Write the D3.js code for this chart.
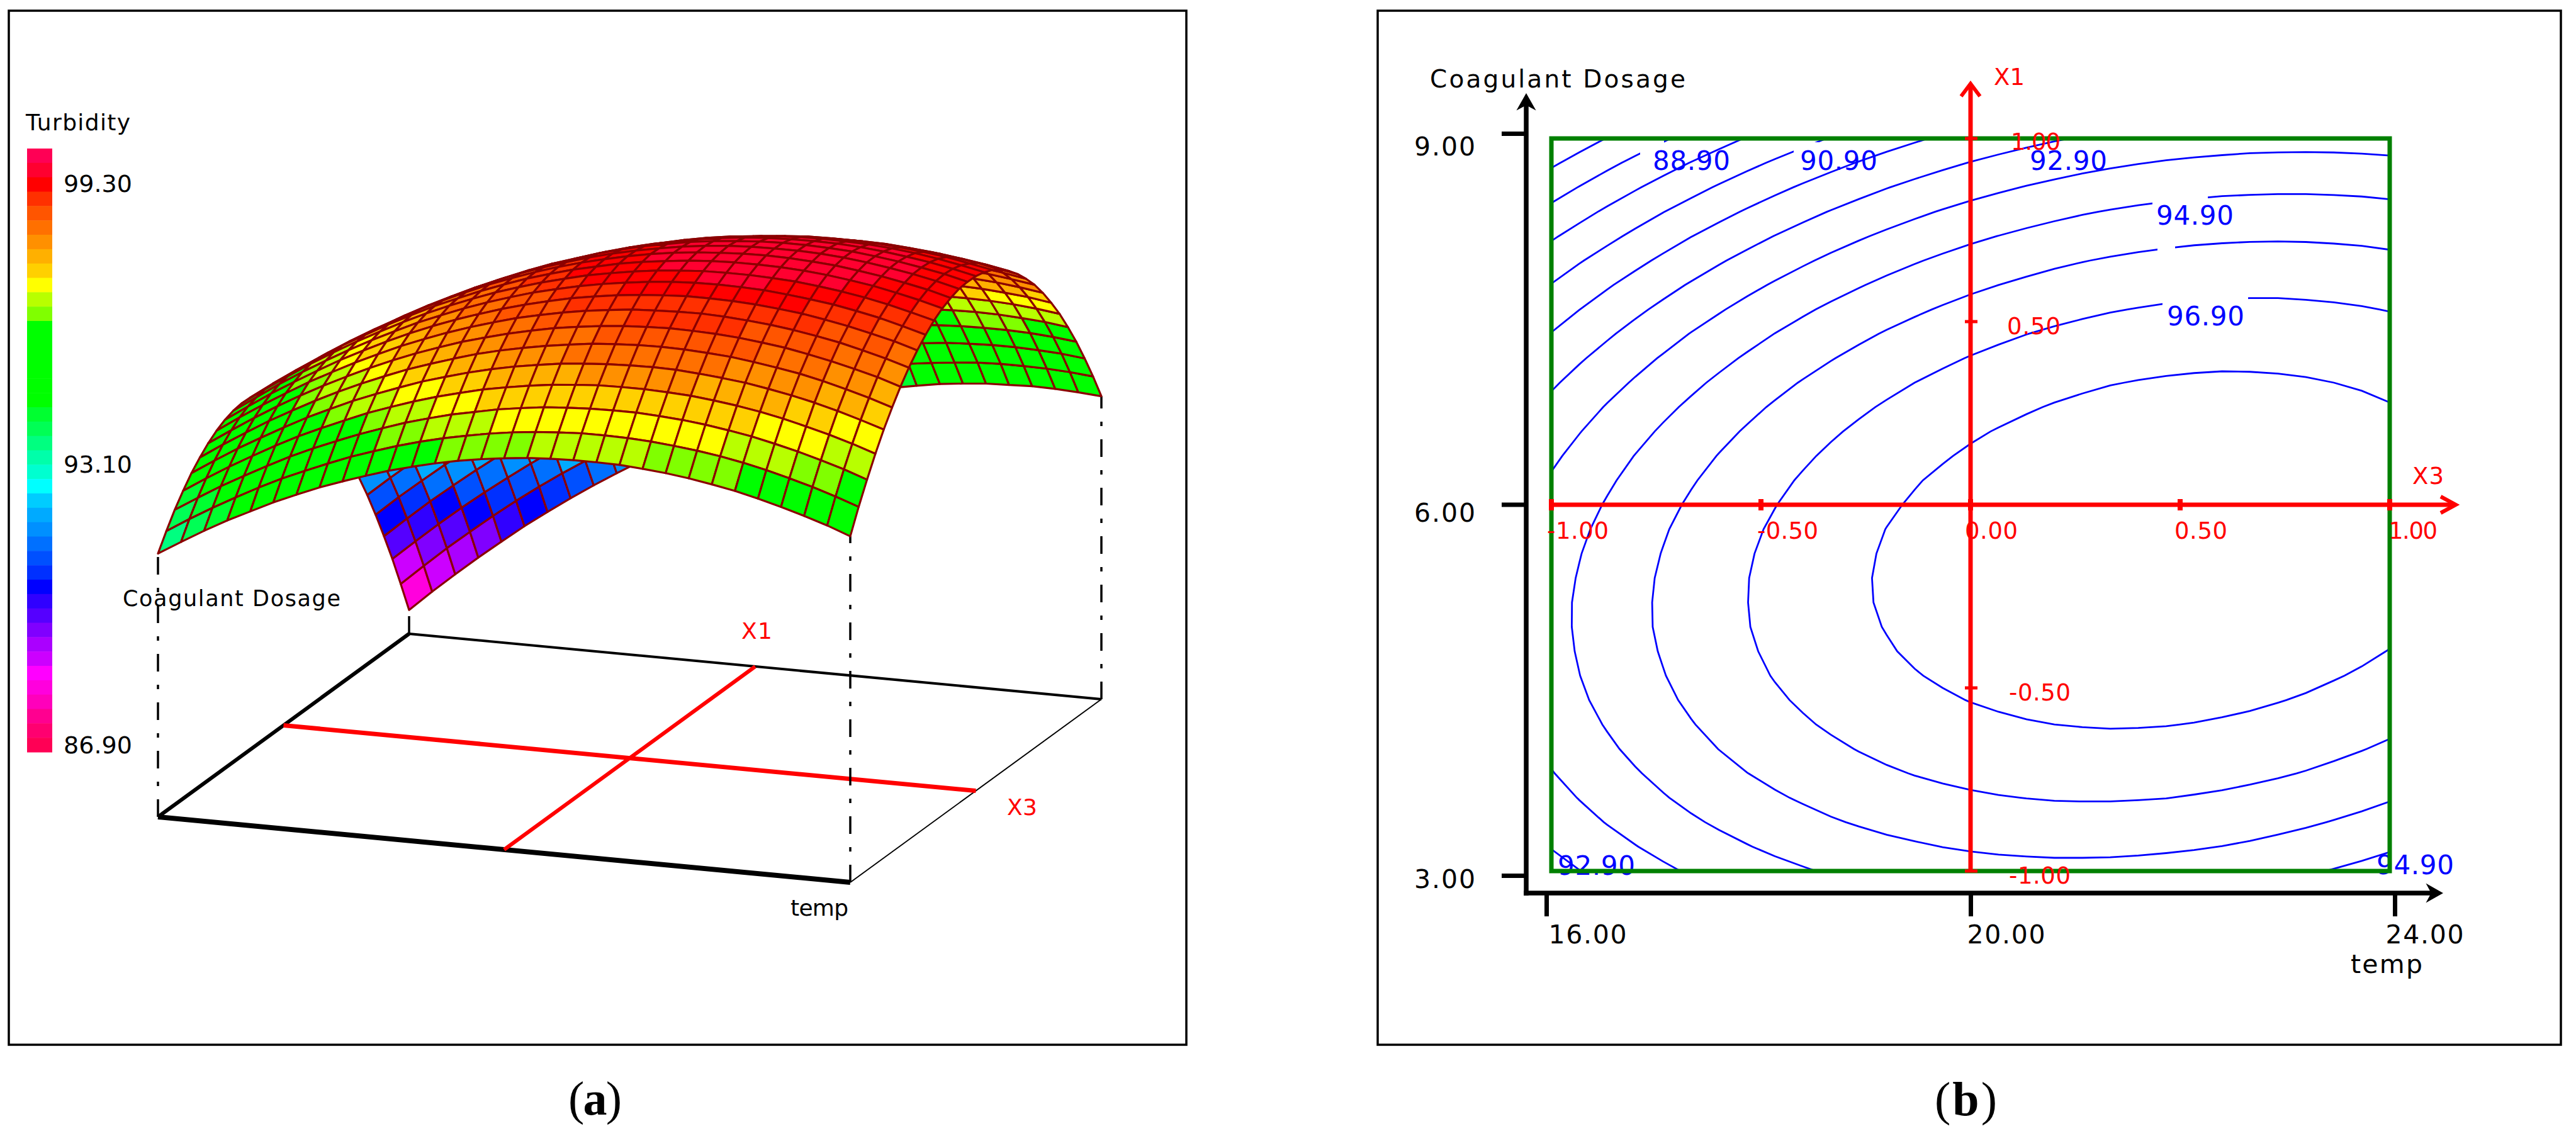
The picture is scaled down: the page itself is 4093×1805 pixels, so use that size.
<!DOCTYPE html>
<html>
<head>
<meta charset="utf-8">
<script src="https://cdnjs.cloudflare.com/ajax/libs/d3/7.8.5/d3.min.js"></script>
<style>
  html, body { margin: 0; padding: 0; background: #fff; }
  svg { display: block; }
  text { font-family: "DejaVu Sans", sans-serif; }
  .caption { font-family: "Liberation Serif", serif; font-size: 76px; }
</style>
</head>
<body>
<svg id="vis" width="4093" height="1805"></svg>
<script>
// legend bands, top to bottom
const legendColors = [
  '#ff0055', '#ff0030', '#ff0000', '#ff3000', '#ff5500', '#ff7000', '#ff9000',
  '#ffb000', '#ffd000', '#ffff00', '#b8ff00', '#80ff00', '#00ff00', '#00ff00',
  '#00ff00', '#00ff00', '#00ff00', '#00ff00', '#00ff30', '#00ff55', '#00ff80',
  '#00ffaa', '#00ffd0', '#00ffff', '#00ccff', '#00aaff', '#0090ff', '#0070ff',
  '#0050ff', '#0030ff', '#0000ff', '#3000ff', '#5500ff', '#8000ff', '#aa00ff',
  '#cc00ff', '#ff00ff', '#ff00dd', '#ff00bb', '#ff0090', '#ff0070', '#ff0055'
];
const legendTicks = [99.3, 93.1, 86.9];
const tempTicks = [16, 20, 24];
const doseTicks = [3, 6, 9];
const codedTicks = [-1, -0.5, 0, 0.5, 1];
const contourLevels = [87.9, 88.9, 89.9, 90.9, 91.9, 92.9, 93.9, 94.9, 95.9, 96.9, 97.9];

// turbidity: one row per dosage step (3 -> 9), one column per temp step (16 -> 24)
const turbidityGrid = [
  [92.56,92.88,93.19,93.48,93.74,94.00,94.23,94.45,94.64,94.82,94.99,95.13,95.26,95.37,95.46,95.53,95.59,95.62,95.64,95.64,95.63,95.59,95.54,95.47,95.38,95.28,95.15,95.01,94.85,94.68,94.48],
  [92.94,93.27,93.58,93.87,94.15,94.41,94.64,94.86,95.07,95.25,95.42,95.57,95.70,95.81,95.91,95.99,96.05,96.09,96.12,96.12,96.11,96.08,96.03,95.97,95.89,95.79,95.67,95.53,95.38,95.21,95.02],
  [93.29,93.62,93.94,94.23,94.51,94.78,95.02,95.24,95.45,95.64,95.82,95.97,96.11,96.22,96.33,96.41,96.48,96.52,96.55,96.56,96.56,96.53,96.49,96.43,96.35,96.26,96.14,96.01,95.86,95.70,95.51],
  [93.59,93.93,94.25,94.55,94.84,95.11,95.35,95.58,95.80,95.99,96.17,96.33,96.47,96.60,96.70,96.79,96.86,96.91,96.95,96.96,96.96,96.94,96.91,96.85,96.78,96.69,96.58,96.45,96.31,96.15,95.97],
  [93.86,94.20,94.53,94.83,95.12,95.40,95.65,95.89,96.10,96.30,96.49,96.65,96.80,96.93,97.04,97.13,97.21,97.26,97.30,97.32,97.33,97.32,97.28,97.23,97.17,97.08,96.98,96.86,96.72,96.56,96.39],
  [94.08,94.43,94.76,95.08,95.37,95.65,95.91,96.15,96.37,96.58,96.76,96.93,97.09,97.22,97.33,97.43,97.51,97.58,97.62,97.65,97.66,97.65,97.62,97.58,97.51,97.43,97.34,97.22,97.08,96.93,96.76],
  [94.27,94.62,94.96,95.28,95.58,95.86,96.12,96.37,96.60,96.81,97.00,97.18,97.33,97.47,97.59,97.70,97.78,97.85,97.90,97.93,97.95,97.94,97.92,97.88,97.82,97.75,97.65,97.54,97.41,97.27,97.10],
  [94.42,94.78,95.12,95.44,95.75,96.03,96.30,96.55,96.79,97.00,97.20,97.38,97.54,97.69,97.81,97.92,98.01,98.08,98.14,98.17,98.19,98.20,98.18,98.14,98.09,98.02,97.93,97.83,97.70,97.56,97.40],
  [94.53,94.89,95.24,95.56,95.87,96.17,96.44,96.70,96.94,97.16,97.36,97.54,97.71,97.86,97.99,98.11,98.20,98.28,98.34,98.38,98.41,98.41,98.40,98.37,98.32,98.26,98.17,98.07,97.95,97.82,97.66],
  [94.60,94.96,95.32,95.65,95.96,96.26,96.54,96.80,97.05,97.27,97.48,97.67,97.84,98.00,98.13,98.25,98.35,98.43,98.50,98.55,98.58,98.59,98.58,98.56,98.51,98.45,98.38,98.28,98.17,98.03,97.88],
  [94.63,95.00,95.36,95.70,96.02,96.32,96.60,96.87,97.12,97.35,97.56,97.76,97.93,98.09,98.23,98.36,98.46,98.55,98.62,98.67,98.71,98.72,98.72,98.70,98.67,98.61,98.54,98.45,98.34,98.21,98.07],
  [94.62,95.00,95.36,95.70,96.03,96.33,96.62,96.89,97.15,97.38,97.60,97.80,97.99,98.15,98.30,98.42,98.54,98.63,98.70,98.76,98.80,98.82,98.82,98.81,98.78,98.73,98.66,98.58,98.47,98.35,98.21],
  [94.57,94.95,95.32,95.67,96.00,96.31,96.60,96.88,97.14,97.38,97.61,97.81,98.00,98.17,98.32,98.45,98.57,98.67,98.75,98.81,98.85,98.88,98.89,98.88,98.85,98.81,98.74,98.66,98.56,98.45,98.31],
  [94.48,94.87,95.24,95.60,95.93,96.25,96.55,96.83,97.09,97.34,97.57,97.78,97.97,98.14,98.30,98.44,98.56,98.66,98.75,98.82,98.87,98.90,98.91,98.91,98.89,98.85,98.79,98.71,98.62,98.51,98.38],
  [94.36,94.75,95.13,95.49,95.83,96.15,96.45,96.74,97.01,97.26,97.49,97.71,97.91,98.08,98.25,98.39,98.52,98.62,98.72,98.79,98.84,98.88,98.90,98.90,98.88,98.85,98.79,98.72,98.63,98.53,98.40],
  [94.19,94.59,94.97,95.33,95.68,96.01,96.32,96.61,96.88,97.14,97.38,97.60,97.80,97.98,98.15,98.30,98.43,98.54,98.64,98.72,98.78,98.82,98.84,98.85,98.84,98.81,98.76,98.69,98.61,98.51,98.39],
  [93.99,94.39,94.78,95.14,95.49,95.83,96.14,96.44,96.72,96.98,97.22,97.45,97.66,97.85,98.02,98.17,98.31,98.43,98.53,98.61,98.67,98.72,98.75,98.76,98.75,98.73,98.69,98.63,98.55,98.45,98.34],
  [93.74,94.15,94.54,94.92,95.27,95.61,95.93,96.23,96.51,96.78,97.03,97.26,97.47,97.67,97.84,98.00,98.14,98.27,98.37,98.46,98.53,98.58,98.62,98.63,98.63,98.61,98.57,98.52,98.45,98.35,98.25],
  [93.46,93.87,94.27,94.65,95.01,95.35,95.68,95.98,96.27,96.54,96.80,97.03,97.25,97.45,97.63,97.80,97.94,98.07,98.18,98.27,98.35,98.41,98.44,98.47,98.47,98.46,98.42,98.37,98.30,98.22,98.11],
  [93.14,93.55,93.96,94.34,94.71,95.05,95.38,95.70,95.99,96.27,96.53,96.77,96.99,97.19,97.38,97.55,97.70,97.83,97.95,98.05,98.13,98.19,98.23,98.26,98.27,98.26,98.23,98.19,98.12,98.04,97.94],
  [92.77,93.20,93.60,93.99,94.36,94.72,95.05,95.37,95.67,95.95,96.21,96.46,96.69,96.90,97.09,97.26,97.42,97.56,97.68,97.78,97.87,97.93,97.98,98.01,98.03,98.02,98.00,97.96,97.90,97.83,97.73],
  [92.37,92.80,93.21,93.61,93.98,94.34,94.68,95.00,95.31,95.59,95.86,96.11,96.35,96.56,96.76,96.94,97.10,97.24,97.37,97.48,97.57,97.64,97.69,97.73,97.75,97.75,97.73,97.70,97.64,97.57,97.48],
  [91.93,92.37,92.78,93.18,93.56,93.93,94.27,94.60,94.91,95.20,95.47,95.73,95.97,96.19,96.39,96.57,96.74,96.89,97.02,97.13,97.23,97.31,97.36,97.41,97.43,97.44,97.42,97.39,97.35,97.28,97.20],
  [91.45,91.89,92.31,92.72,93.10,93.47,93.82,94.16,94.47,94.77,95.05,95.31,95.55,95.77,95.98,96.17,96.34,96.50,96.63,96.75,96.85,96.93,97.00,97.04,97.07,97.08,97.08,97.05,97.01,96.95,96.87],
  [90.93,91.38,91.81,92.22,92.61,92.98,93.33,93.67,93.99,94.29,94.58,94.84,95.09,95.32,95.53,95.73,95.90,96.06,96.21,96.33,96.43,96.52,96.59,96.64,96.67,96.69,96.69,96.67,96.63,96.58,96.50],
  [90.38,90.83,91.26,91.67,92.07,92.45,92.81,93.15,93.47,93.78,94.07,94.34,94.60,94.83,95.05,95.25,95.43,95.59,95.74,95.87,95.98,96.07,96.14,96.20,96.24,96.26,96.26,96.25,96.22,96.17,96.10],
  [89.78,90.24,90.67,91.09,91.49,91.88,92.24,92.59,92.92,93.23,93.53,93.80,94.06,94.30,94.52,94.73,94.91,95.08,95.23,95.37,95.48,95.58,95.66,95.72,95.76,95.79,95.80,95.79,95.76,95.72,95.65],
  [89.14,89.60,90.05,90.47,90.88,91.27,91.64,91.99,92.32,92.64,92.94,93.22,93.48,93.73,93.96,94.17,94.36,94.53,94.69,94.83,94.95,95.05,95.13,95.20,95.25,95.28,95.29,95.29,95.27,95.23,95.17],
  [88.47,88.93,89.38,89.81,90.22,90.61,90.99,91.35,91.69,92.01,92.31,92.60,92.87,93.12,93.35,93.57,93.76,93.94,94.10,94.25,94.37,94.48,94.57,94.64,94.70,94.73,94.75,94.75,94.73,94.70,94.64],
  [87.75,88.22,88.68,89.11,89.53,89.93,90.31,90.67,91.01,91.34,91.65,91.94,92.22,92.47,92.71,92.93,93.13,93.31,93.48,93.63,93.76,93.87,93.97,94.04,94.10,94.15,94.17,94.17,94.16,94.13,94.08],
  [87.00,87.48,87.93,88.37,88.79,89.20,89.58,89.95,90.30,90.63,90.95,91.24,91.52,91.78,92.03,92.25,92.46,92.65,92.82,92.97,93.11,93.22,93.32,93.41,93.47,93.52,93.54,93.56,93.55,93.52,93.48]
];

const svg = d3.select('#vis');
const nCols = turbidityGrid[0].length;
const nRows = turbidityGrid.length;

// coded units of the grid: both axes run -1 to 1
let colCoded = d3.scaleLinear().domain([0, nCols - 1]).range([-1, 1]);
let rowCoded = d3.scaleLinear().domain([0, nRows - 1]).range([-1, 1]);

// small helper for plain text labels, len squeezes to the measured width
function label(g, str, x, y, size, fill, len) {
  let t = g.append('text')
    .attr('x', x).attr('y', y)
    .attr('font-size', size)
    .attr('fill', fill)
    .text(str);
  if (len) t.attr('textLength', len).attr('lengthAdjust', 'spacing');
  return t;
}

function panelFrame(x0, y0, x1, y1) {
  svg.append('rect')
    .attr('x', x0).attr('y', y0)
    .attr('width', x1 - x0).attr('height', y1 - y0)
    .attr('fill', 'none')
    .attr('stroke', '#000')
    .attr('stroke-width', 3.5);
}

/* ---------- panel (a): response surface ---------- */
panelFrame(14, 17, 1885, 1660);
let a = svg.append('g');

// legend
let legendBand = d3.scaleBand().domain(d3.range(legendColors.length)).range([236, 1195]);
a.selectAll('.band').data(legendColors).join('rect')
  .attr('class', 'band')
  .attr('x', 43).attr('width', 40)
  .attr('y', (d, i) => legendBand(i))
  .attr('height', legendBand.bandwidth() + 0.5)
  .attr('fill', d => d);
let legendY = d3.scaleLinear().domain([86.9, 99.3]).range([1197, 305]);
legendTicks.forEach(d => label(a, d.toFixed(2), 101, legendY(d), 38, '#000', 109));
label(a, 'Turbidity', 41, 207, 36, '#000', 166);

// oblique projection of the base plane
let originX = d3.scaleLinear().domain([-1, 1]).range([251, 1351]);
let originY = d3.scaleLinear().domain([-1, 1]).range([1298, 1402]);
let depthX = d3.scaleLinear().domain([-1, 1]).range([0, 399]);
let depthY = d3.scaleLinear().domain([-1, 1]).range([0, -291]);
let heightPx = d3.scaleLinear().domain([86.45, 99.3]).range([0, 880]);
let colorOf = d3.scaleQuantize().domain([86.2, 99.25]).range(legendColors.slice().reverse());

function project(u, v, z) {
  return [originX(u) + depthX(v), originY(u) + depthY(v) - (z === undefined ? 0 : heightPx(z))];
}

// base plane
let baseLine = d3.line();
function baseEdge(p, q, color, width) {
  a.append('path')
    .attr('d', baseLine([project(p[0], p[1]), project(q[0], q[1])]))
    .attr('stroke', color)
    .attr('stroke-width', width)
    .attr('fill', 'none');
}
baseEdge([-1, -1], [-1, 1], '#000', 6);
baseEdge([-1, -1], [1, -1], '#000', 8);
baseEdge([-1, 1], [1, 1], '#000', 4);
baseEdge([1, 1], [1, -1], '#000', 2);
baseEdge([-1, 0], [1, 0], '#f00', 7);
baseEdge([0, -1], [0, 1], '#f00', 6);

// dash-dot risers from the corners up to the surface
[[0, 0], [nCols - 1, 0], [nCols - 1, nRows - 1], [0, nRows - 1]].forEach(function (c) {
  let u = colCoded(c[0]);
  let v = rowCoded(c[1]);
  a.append('path')
    .attr('d', baseLine([project(u, v), project(u, v, turbidityGrid[c[1]][c[0]])]))
    .attr('stroke', '#000')
    .attr('stroke-width', 3.5)
    .attr('stroke-dasharray', '28 21 7 21');
});

// surface cells, back row first so the front of the dome paints over it
let cells = [];
d3.range(nRows - 2, -1, -1).forEach(function (r) {
  d3.range(nCols - 1).forEach(function (c) {
    let corners = [[c, r], [c + 1, r], [c + 1, r + 1], [c, r + 1]];
    cells.push({
      points: corners.map(p => project(colCoded(p[0]), rowCoded(p[1]), turbidityGrid[p[1]][p[0]])),
      value: d3.mean(corners, p => turbidityGrid[p[1]][p[0]])
    });
  });
});
a.selectAll('.cell').data(cells).join('path')
  .attr('class', 'cell')
  .attr('d', d => baseLine(d.points) + 'Z')
  .attr('fill', d => colorOf(d.value))
  .attr('stroke', '#8b0000')
  .attr('stroke-width', 3.2)
  .attr('stroke-linejoin', 'round');

label(a, 'Coagulant Dosage', 195, 963, 35, '#000', 346);
label(a, 'X1', 1178, 1015, 36, '#f00', 49);
label(a, 'X3', 1600, 1295, 36, '#f00', 48);
label(a, 'temp', 1256, 1455, 36, '#000', 92);

svg.append('text').attr('class', 'caption')
  .attr('x', 903).attr('y', 1771)
  .attr('textLength', 85).attr('lengthAdjust', 'spacing')
  .html('(<tspan font-weight="bold">a</tspan>)');

/* ---------- panel (b): contour plot ---------- */
panelFrame(2189, 17, 4069, 1660);
let b = svg.append('g');

let x3Scale = d3.scaleLinear().domain([-1, 1]).range([2465, 3797]);
let x1Scale = d3.scaleLinear().domain([-1, 1]).range([1384, 220]);
let tempScale = d3.scaleLinear().domain([16, 24]).range([2457, 3805]);
let doseScale = d3.scaleLinear().domain([3, 9]).range([1391, 212]);
// tick labels sit slightly off their ticks in the original
let tempLabelX = d3.scaleLinear().domain([16, 24]).range([2460, 3790]);
let doseLabelY = d3.scaleLinear().domain([3, 9]).range([1410, 246]);

b.append('clipPath').attr('id', 'plotClip').append('rect')
  .attr('x', x3Scale(-1)).attr('y', x1Scale(1))
  .attr('width', x3Scale(1) - x3Scale(-1))
  .attr('height', x1Scale(-1) - x1Scale(1));

// contour lines
let contours = d3.contours()
  .size([nCols, nRows])
  .thresholds(contourLevels)(turbidityGrid.flat());
let toPlot = d3.geoTransform({
  point: function (gx, gy) {
    let c = Math.max(0, Math.min(nCols - 1, gx - 0.5));
    let r = Math.max(0, Math.min(nRows - 1, gy - 0.5));
    this.stream.point(x3Scale(colCoded(c)), x1Scale(rowCoded(r)));
  }
});
b.append('g').attr('clip-path', 'url(#plotClip)')
  .selectAll('path').data(contours).join('path')
  .attr('d', d3.geoPath(toPlot))
  .attr('fill', 'none')
  .attr('stroke', '#0000ff')
  .attr('stroke-width', 2.8);

// gaps the labels leave in the lines
[[2606, 2644, 224, 250], [2850, 2896, 226, 250], [3420, 3508, 304, 328],
 [3428, 3456, 384, 402], [3436, 3572, 466, 492]].forEach(function (g) {
  b.append('rect')
    .attr('x', g[0]).attr('y', g[2])
    .attr('width', g[1] - g[0]).attr('height', g[3] - g[2])
    .attr('fill', '#fff');
});

[['88.90', 2626, 270], ['90.90', 2860, 270], ['92.90', 3225, 270], ['94.90', 3426, 357],
 ['96.90', 3443, 517], ['92.90', 2475, 1390], ['94.90', 3776, 1389]].forEach(function (d) {
  label(b, d[0], d[1], d[2], 42, '#0000ff', 123);
});

// plot border
b.append('rect')
  .attr('x', x3Scale(-1)).attr('y', x1Scale(1))
  .attr('width', x3Scale(1) - x3Scale(-1))
  .attr('height', x1Scale(-1) - x1Scale(1))
  .attr('fill', 'none')
  .attr('stroke', '#008000')
  .attr('stroke-width', 7);

// black axes
let yAxis = d3.axisLeft(doseScale).tickValues(doseTicks).tickSize(39).tickPadding(42)
  .tickFormat(d3.format('.2f'));
let xAxis = d3.axisBottom(tempScale).tickValues(tempTicks).tickSize(37).tickPadding(0)
  .tickFormat(d3.format('.2f'));
let yG = b.append('g').attr('transform', 'translate(2425,0)').call(yAxis);
let xG = b.append('g').attr('transform', 'translate(0,1419)').call(xAxis);
yG.select('.domain').remove();
xG.select('.domain').remove();
yG.selectAll('line').attr('stroke', '#000').attr('stroke-width', 7);
xG.selectAll('line').attr('stroke', '#000').attr('stroke-width', 7);
yG.selectAll('text')
  .attr('font-size', 41).attr('font-family', '"DejaVu Sans"')
  .attr('textLength', 97).attr('lengthAdjust', 'spacing')
  .attr('dy', 0).attr('y', d => doseLabelY(d) - doseScale(d)).attr('fill', '#000');
xG.selectAll('text')
  .attr('font-size', 41).attr('font-family', '"DejaVu Sans"')
  .attr('text-anchor', 'start').attr('x', d => tempLabelX(d) - tempScale(d))
  .attr('textLength', 124).attr('lengthAdjust', 'spacing')
  .attr('dy', 0).attr('y', 80).attr('fill', '#000');

// axis lines are drawn from the scale ends out to the arrow tips
function arrowLine(p, q, color, width) {
  b.append('path')
    .attr('d', baseLine([p, q]))
    .attr('stroke', color)
    .attr('stroke-width', width)
    .attr('fill', 'none');
}
arrowLine([2425, 1423], [2425, 165], '#000', 7.5);
arrowLine([2421, 1419], [3865, 1419], '#000', 7.5);
b.append('path').attr('d', 'M2425,150L2412,173L2425,166L2438,173Z').attr('fill', '#000').attr('stroke', '#000').attr('stroke-width', 2);
b.append('path').attr('d', 'M3880,1419L3857,1406L3864,1419L3857,1432Z').attr('fill', '#000').attr('stroke', '#000').attr('stroke-width', 2);

// red coded axes
arrowLine([x3Scale(0), x1Scale(-1)], [x3Scale(0), 135], '#f00', 7);
arrowLine([x3Scale(-1), x1Scale(0)], [3896, x1Scale(0)], '#f00', 7);
b.append('path').attr('d', 'M3116,153L3131,133L3146,153').attr('fill', 'none').attr('stroke', '#f00').attr('stroke-width', 6);
b.append('path').attr('d', 'M3878,789L3902,802L3878,815').attr('fill', 'none').attr('stroke', '#f00').attr('stroke-width', 6);

b.selectAll('.x3tick').data(codedTicks).join('line')
  .attr('class', 'x3tick')
  .attr('x1', d => x3Scale(d)).attr('x2', d => x3Scale(d))
  .attr('y1', x1Scale(0) - 9).attr('y2', x1Scale(0) + 9)
  .attr('stroke', '#f00').attr('stroke-width', 8);
b.selectAll('.x1tick').data(codedTicks).join('line')
  .attr('class', 'x1tick')
  .attr('x1', x3Scale(0) - 9).attr('x2', x3Scale(0) + 11)
  .attr('y1', d => x1Scale(d)).attr('y2', d => x1Scale(d))
  .attr('stroke', '#f00').attr('stroke-width', 5);

[[-1, 2458, 98], [-0.5, 2792, 97], [0, 3122, 84], [0.5, 3455, 84], [1, 3795, 78]].forEach(function (d) {
  label(b, d[0].toFixed(2), d[1], 856, 37, '#f00', d[2]);
});
[[1, 3195, 238, 79], [0.5, 3189, 531, 85], [-0.5, 3192, 1113, 98], [-1, 3192, 1404, 98]].forEach(function (d) {
  label(b, d[0].toFixed(2), d[1], d[2], 37, '#f00', d[3]);
});
label(b, 'X1', 3168, 135, 37, '#f00', 49);
label(b, 'X3', 3833, 769, 37, '#f00', 50);
label(b, 'Coagulant Dosage', 2272, 139, 39, '#000', 406);
label(b, 'temp', 3735, 1546, 41, '#000', 114);

svg.append('text').attr('class', 'caption')
  .attr('x', 3074).attr('y', 1772)
  .attr('textLength', 99).attr('lengthAdjust', 'spacing')
  .html('(<tspan font-weight="bold">b</tspan>)');
</script>
</body>
</html>
